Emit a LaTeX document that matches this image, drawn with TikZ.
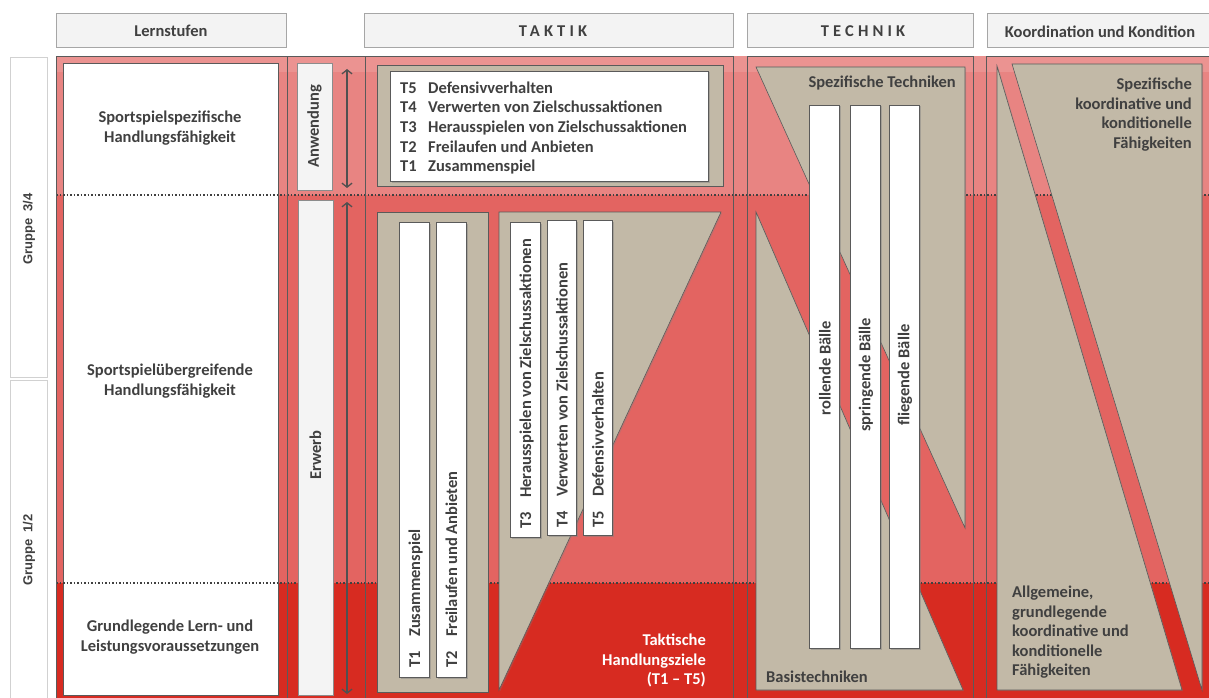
\documentclass[tikz,border=0pt]{standalone}
\usepackage{fontspec}
\setmainfont{Carlito}
\newfontfamily\grpfont{Liberation Sans}
\usetikzlibrary{arrows.meta,shadows}
\definecolor{redA}{HTML}{E88482}
\definecolor{redAt}{HTML}{EB9391}
\definecolor{redB}{HTML}{E36461}
\definecolor{redC}{HTML}{D72B21}
\definecolor{taupe}{HTML}{C2B9A7}
\definecolor{txt}{HTML}{404040}
\definecolor{edge}{HTML}{5A5A5A}
\definecolor{hdr}{HTML}{F3F3F3}
\definecolor{lbox}{HTML}{F4F4F4}
\definecolor{arr}{HTML}{505050}
\newcommand\mainf{\fontsize{16.5}{19.5}\selectfont\bfseries}
\begin{document}
\begin{tikzpicture}[x=1pt,y=-1pt,
  every node/.style={text=txt, font=\mainf, inner sep=0pt},
  frame/.style={draw=edge, line width=0.5pt},
  hdrbox/.style={draw=black!35, fill=hdr, line width=0.7pt, drop shadow={shadow xshift=1pt,shadow yshift=-1pt,opacity=0.25}},
  gbox/.style={draw=black!18, fill=white, line width=0.7pt, drop shadow={shadow xshift=1pt,shadow yshift=-1pt,opacity=0.2}},
  lightbox/.style={draw=black!45, fill=lbox, line width=0.6pt},
  wbox/.style={draw=edge, fill=white, line width=0.6pt, drop shadow={shadow xshift=1.5pt,shadow yshift=-1.5pt,opacity=0.45}},
  tshape/.style={draw=edge, fill=taupe, line width=0.6pt, drop shadow={shadow xshift=1.2pt,shadow yshift=-1.2pt,opacity=0.3}},
  dotline/.style={draw=black!75, line width=2pt, dash pattern=on 1.6pt off 1.9pt},
  dblarrow/.style={draw=arr, line width=1.3pt, {Straight Barb[length=4pt,width=10pt]}-{Straight Barb[length=4pt,width=10pt]}},
  rot/.style={rotate=90},
]
\useasboundingbox (0,0) rectangle (1209,698);
% background bands
\fill[redAt] (56,56) rectangle (1209,72);
\fill[redA] (56,72) rectangle (1209,195);
\fill[redB] (56,195) rectangle (1209,583);
\fill[redC] (56,583) rectangle (1209,698);
% Lernstufen white box
\draw[frame, fill=white] (63,63) rectangle (278,695);
% dotted level lines
\coordinate (d1l) at (56,195); \coordinate (d1r) at (1209,195);
\coordinate (d2l) at (56,583); \coordinate (d2r) at (1209,583);
\draw[dotline] (d1l) -- (d1r);
\draw[dotline] (d2l) -- (d2r);
% column frames
\draw[frame] (56,56) rectangle (287,698);
\draw[frame] (287,56) rectangle (365,698);
\draw[frame] (365,56) rectangle (733,698);
\draw[frame] (747,56) rectangle (973,698);
\draw[frame] (986,56) rectangle (1212,698);
% headers
\draw[hdrbox] (56,13) rectangle (286,47);
\draw[hdrbox] (364,13) rectangle (733,47);
\draw[hdrbox] (747,13) rectangle (973,47);
\draw[hdrbox] (987,13) rectangle (1215,47);
\node (h1) at (171,31) {Lernstufen};
\node (h2) at (553,31) {\addfontfeature{LetterSpace=25}TAKTIK};
\node (h3) at (863,31) {\addfontfeature{LetterSpace=25}TECHNIK};
\node (h4) at (1100,32) {Koordination und Kondition};
% Gruppe boxes
\draw[gbox] (10,57) rectangle (47,377);
\draw[gbox] (10,380) rectangle (47,705);
\node[rot, font=\grpfont\bfseries\fontsize{13}{15}\selectfont] (g34) at (29,229) {Gruppe\ \ 3/4};
\node[rot, font=\grpfont\bfseries\fontsize{13}{15}\selectfont] (g12) at (29,550) {Gruppe\ \ 1/2};
% Lernstufen texts
\node[align=center] (l1) at (170,128) {Sportspielspezifische\\Handlungsfähigkeit};
\node[align=center] (l2) at (170,381) {Sportspielübergreifende\\Handlungsfähigkeit};
\node[align=center] (l3) at (170,637) {Grundlegende Lern- und\\Leistungsvoraussetzungen};
% Anwendung / Erwerb
\draw[lightbox] (297,63) rectangle (332,190);
\draw[lightbox] (298,200) rectangle (333,695);
\node[rot] (anw) at (314.5,126) {Anwendung};
\node[rot] (erw) at (315.5,455) {Erwerb};
\coordinate (a1) at (347,69); \coordinate (a2) at (347,188);
\coordinate (e1) at (347,202); \coordinate (e2) at (347,694);
\draw[dblarrow] (a1) -- (a2);
\draw[dblarrow] (e1) -- (e2);
% TAKTIK top
\draw[tshape] (377,65) rectangle (723,186);
\draw[wbox] (390,71) rectangle (708,181);
\node[anchor=base west] (t5) at (400,93.5) {\makebox[28pt][l]{T5}Defensivverhalten};
\node[anchor=base west] (t4) at (400,113) {\makebox[28pt][l]{T4}Verwerten von Zielschussaktionen};
\node[anchor=base west] (t3) at (400,132.5) {\makebox[28pt][l]{T3}Herausspielen von Zielschussaktionen};
\node[anchor=base west] (t2) at (400,152) {\makebox[28pt][l]{T2}Freilaufen und Anbieten};
\node[anchor=base west] (t1) at (400,171.5) {\makebox[28pt][l]{T1}Zusammenspiel};
% TAKTIK lower
\draw[tshape] (377,212) rectangle (488,692);
\draw[tshape] (499,212) -- (721,212) -- (499,690) -- cycle;
\draw[wbox] (399,222) rectangle (429,677);
\draw[wbox] (436,222) rectangle (466,677);
\draw[wbox] (510,222) rectangle (540,537);
\draw[wbox] (547,220) rectangle (576,535);
\draw[wbox] (583,220) rectangle (612,535);
\node[rot, anchor=base west] (b1) at (420,668) {\makebox[31pt][l]{T1}Zusammenspiel};
\node[rot, anchor=base west] (b2) at (457,668) {\makebox[31pt][l]{T2}Freilaufen und Anbieten};
\node[rot, anchor=base west] (b3) at (531,529) {\makebox[31pt][l]{T3}Herausspielen von Zielschussaktionen};
\node[rot, anchor=base west] (b4) at (567.5,528) {\makebox[31pt][l]{T4}Verwerten von Zielschussaktionen};
\node[rot, anchor=base west] (b5) at (603.5,528) {\makebox[31pt][l]{T5}Defensivverhalten};
\node[align=right, text=white, anchor=north east] (tz) at (706,634) {Taktische\\Handlungsziele\\(T1 -- T5)};
% TECHNIK
\draw[tshape] (756,67) -- (965,67) -- (965,528) -- cycle;
\draw[tshape] (756,212) -- (756,690) -- (963,690) -- cycle;
\draw[wbox] (809,105) rectangle (839,648);
\draw[wbox] (850,105) rectangle (880,648);
\draw[wbox] (889,105) rectangle (919,648);
\node[rot] (r1) at (825,368) {rollende Bälle};
\node[rot] (r2) at (866,375) {springende Bälle};
\node[rot] (r3) at (905,375) {fliegende Bälle};
\node[anchor=east] (st) at (956,83) {Spezifische Techniken};
\node[anchor=west] (bt) at (766,677) {Basistechniken};
% Koordination
\draw[tshape] (997,66) -- (997,690) -- (1182,690) -- cycle;
\draw[tshape] (1012,64) -- (1202,64) -- (1202,690) -- cycle;
\node[align=right, anchor=north east] (sk) at (1192,78) {Spezifische\\koordinative und\\konditionelle\\Fähigkeiten};
\node[align=left, anchor=north west] (ak) at (1012,586) {Allgemeine,\\grundlegende\\koordinative und\\konditionelle\\Fähigkeiten};
\end{tikzpicture}
\end{document}
